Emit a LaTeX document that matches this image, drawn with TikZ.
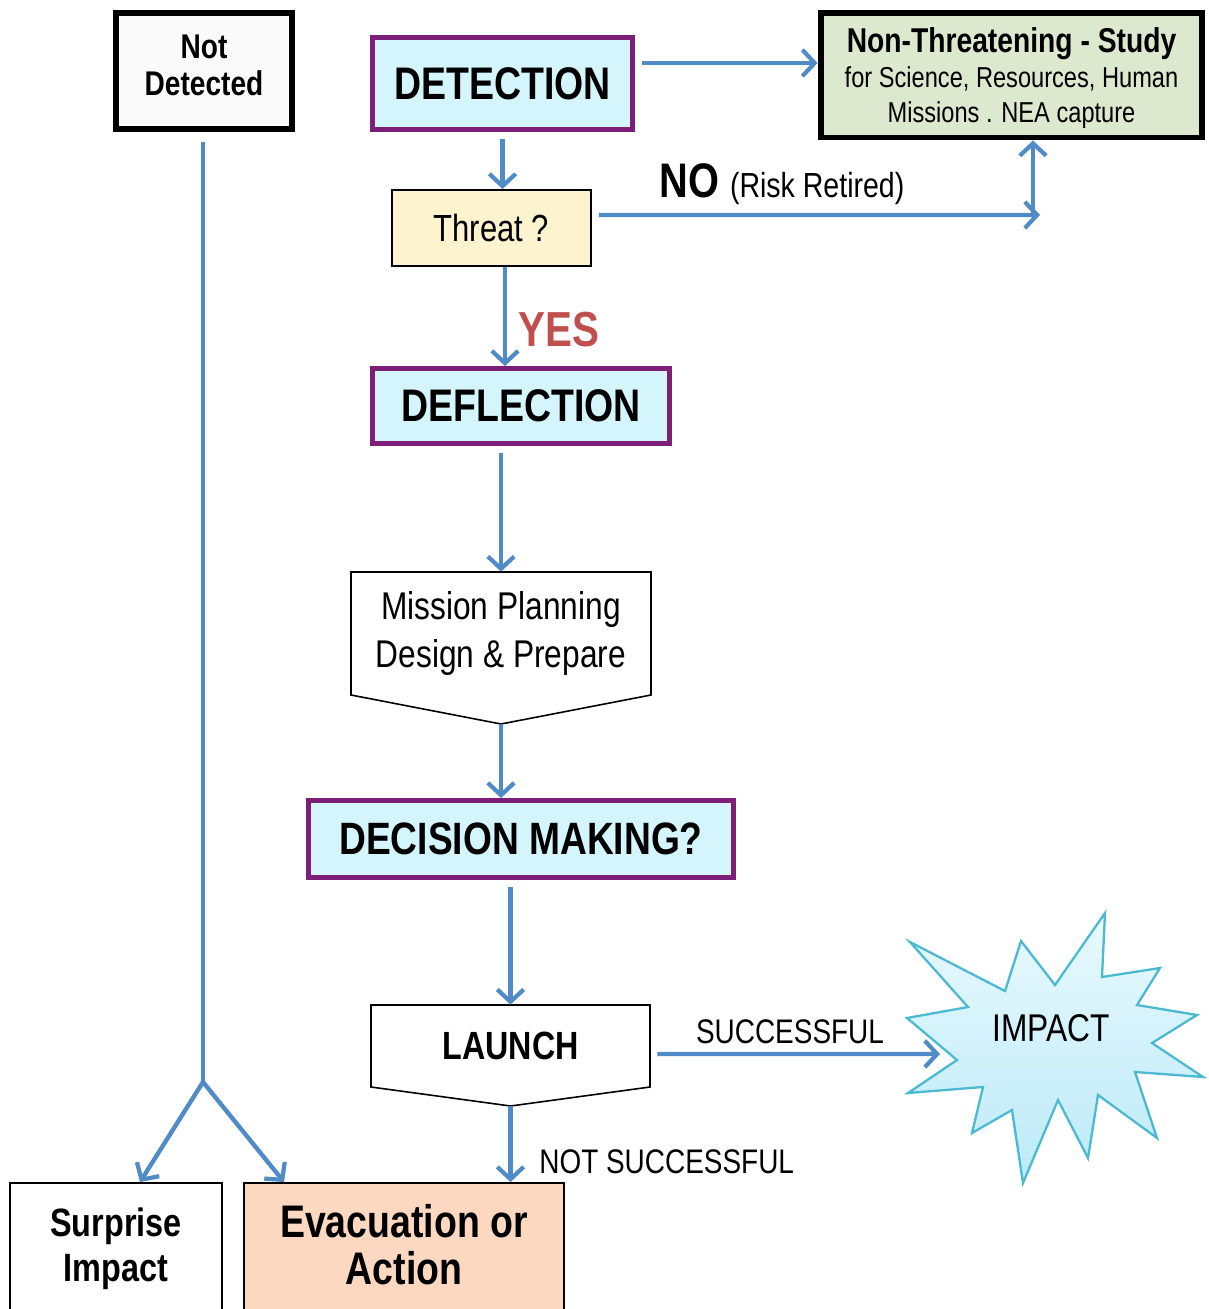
\documentclass[tikz,border=0pt]{standalone}
\usepackage{fontspec}
\setmainfont{Liberation Sans}[FakeStretch=0.82]
\usetikzlibrary{arrows.meta}
\definecolor{arrowblue}{RGB}{79,139,198}
\definecolor{boxpurple}{RGB}{125,30,120}
\definecolor{boxcyan}{RGB}{212,245,252}
\definecolor{boxgreen}{RGB}{221,233,207}
\definecolor{boxyellow}{RGB}{253,243,207}
\definecolor{boxpeach}{RGB}{252,216,192}
\definecolor{boxgray}{RGB}{250,250,250}
\definecolor{yesred}{RGB}{192,80,77}
\definecolor{burstedge}{RGB}{75,185,210}
\definecolor{bursttop}{RGB}{232,249,253}
\definecolor{burstbot}{RGB}{188,234,248}
\begin{document}
\begin{tikzpicture}[x=0.02cm,y=-0.02cm,
arr/.style={draw=arrowblue,line width=2.5pt,-{Straight Barb[length=7pt,width=15pt,line width=2.4pt]}},
flow/.style={draw=arrowblue,line width=2.5pt},
gapped/.style={shorten <=0.14cm},
heavy/.style={draw,line width=3.4pt,inner sep=0pt,align=center},
plain/.style={draw,line width=1.1pt,inner sep=0pt,align=center},
purplebox/.style={draw=boxpurple,line width=2.8pt,fill=boxcyan,inner sep=0pt,font=\fontsize{26}{30}\selectfont\bfseries},
burst/.style={draw=burstedge,line width=1.3pt,top color=bursttop,bottom color=burstbot},
lbl/.style={inner sep=0pt,font=\fontsize{19.4}{22}\selectfont}]
\useasboundingbox (0,0) rectangle (1209,1309);
\newcommand\penta[8]{
\draw[line width=0.9pt,fill=white] ({#2-#4/2},{#3-#5/2}) -- ({#2+#4/2},{#3-#5/2}) -- ({#2+#4/2},{#3+#5/2}) -- (#2,{#3+#5/2+#6}) -- ({#2-#4/2},{#3+#5/2}) -- cycle;
\node[inner sep=0pt,align=center,minimum width=#4*0.02cm,minimum height=#5*0.02cm,font=#7] (#1) at (#2,#3) {#8};
\coordinate (#1-tip) at (#2,{#3+#5/2+#6});
}
% boxes
\node[heavy,fill=boxgray,minimum width=3.52cm,minimum height=2.32cm,text depth=6.5pt,font=\fontsize{19.5}{21}\selectfont\bfseries] (notdet) at (204,71) {Not\\Detected};
\node[purplebox,minimum width=5.2cm,minimum height=1.84cm] (detect) at (502.5,83.5) {DETECTION};
\node[heavy,fill=boxgreen,minimum width=7.64cm,minimum height=2.5cm,text depth=0pt,font=\fontsize{16.4}{19.8}\selectfont] (nonthreat) at (1011.5,75) {{\fontsize{19.6}{19.8}\selectfont\bfseries Non-Threatening - Study}\\for Science, Resources, Human\\Missions . NEA capture};
\node[plain,fill=boxyellow,minimum width=3.98cm,minimum height=1.52cm,font=\fontsize{21.5}{24}\selectfont] (threat) at (491.5,228) {Threat ?};
\node[purplebox,minimum width=5.94cm,minimum height=1.5cm] (deflect) at (521,406) {DEFLECTION};
\penta{mission}{501}{633.5}{300}{123}{29}{\fontsize{22}{27.8}\selectfont}{Mission Planning\\Design \& Prepare}
\node[purplebox,minimum width=8.5cm,minimum height=1.54cm,font=\fontsize{25.8}{30}\selectfont\bfseries] (decide) at (521,839) {DECISION MAKING?};
\penta{launch}{510.5}{1046}{279}{82}{19}{\fontsize{22.4}{26}\selectfont\bfseries}{LAUNCH}
\node[plain,fill=white,minimum width=4.24cm,minimum height=2.6cm,text depth=4pt,font=\fontsize{22.5}{25.5}\selectfont\bfseries] (surprise) at (116,1248) {Surprise\\Impact};
\node[plain,fill=boxpeach,minimum width=6.4cm,minimum height=2.6cm,text depth=4pt,font=\fontsize{26}{27.2}\selectfont\bfseries] (evac) at (404,1248) {Evacuation or\\Action};
% impact star
\draw[burst] (910,942) -- (1005,991) -- (1021,941) -- (1055,985) -- (1105,913) -- (1102,977) -- (1160,968) -- (1137,1005) -- (1197,1015) -- (1152,1043) -- (1203,1077) -- (1135,1072) -- (1157,1138) -- (1098,1095) -- (1088,1158) -- (1058,1100) -- (1023,1183) -- (1012,1110) -- (972,1133) -- (983,1087) -- (908,1093) -- (957,1060) -- (907,1018) -- (968,1007) -- cycle;
\node[inner sep=0pt,font=\fontsize{22}{24}\selectfont] (impact) at (1051,1028) {IMPACT};
% labels
\node[inner sep=0pt,text=yesred,font=\fontsize{28}{30}\selectfont\bfseries] (yes) at (559,330) {YES};
\node[inner sep=0pt,anchor=base west] (no) at (659,197) {{\fontsize{27.6}{30}\selectfont\bfseries NO}\hspace{4pt} {\fontsize{19.8}{22}\selectfont(Risk Retired)}};
\node[lbl] (succ) at (790,1032) {SUCCESSFUL};
\node[lbl,anchor=west] (notsucc) at (539,1162) {NOT SUCCESSFUL};
% connectors
\coordinate (fork) at (203,1082);
\coordinate (risk) at (1040,215);
\coordinate (riskup) at (1033,215);
\coordinate (hit) at (940,1054);
\draw[flow] ([yshift=-0.2cm]notdet.south -| fork) -- (fork);
\draw[arr] (fork) -- ([xshift=0.48cm]surprise.north);
\draw[arr] (fork) -- ([xshift=0.82cm]evac.north west);
\draw[arr,gapped] (detect.south) -- (detect.south |- threat.north);
\draw[arr,gapped] ([yshift=0.41cm]detect.east) -- ([yshift=0.41cm]detect.east -| nonthreat.west);
\draw[arr,gapped] ([yshift=0.26cm]threat.east) -- (risk);
\draw[arr] (riskup) -- (riskup |- nonthreat.south);
\draw[arr] ([xshift=0.27cm]threat.south) -- ([xshift=0.27cm]threat.south |- deflect.north);
\draw[arr,gapped] (mission.north |- deflect.south) -- (mission.north);
\draw[arr] (mission-tip) -- (mission-tip |- decide.north);
\draw[arr,gapped] (decide.south -| launch.north) -- (launch.north);
\draw[arr] (launch-tip) -- (launch-tip |- evac.north);
\draw[arr,gapped] ([yshift=-0.16cm]launch.east) -- (hit);
\end{tikzpicture}
\end{document}
